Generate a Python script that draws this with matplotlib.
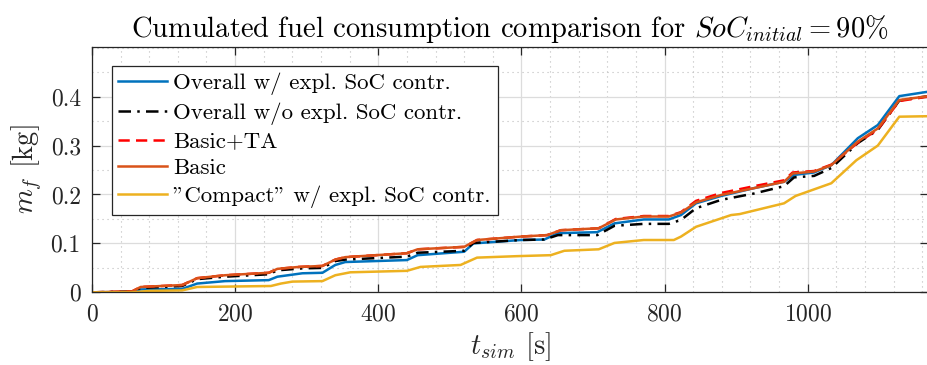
import matplotlib
matplotlib.use('Agg')
import matplotlib.pyplot as plt
from matplotlib.ticker import MultipleLocator

plt.rcParams['font.family'] = 'serif'
plt.rcParams['font.serif'] = ['cmr10']
plt.rcParams['mathtext.fontset'] = 'cm'
plt.rcParams['axes.formatter.use_mathtext'] = True

# Overall w/ expl. SoC contr. (blue)
t_blue = [0, 56, 68, 126, 147, 186, 247, 259, 294, 322, 340, 354, 440, 455, 520, 533, 599, 632, 651,
          706, 730, 771, 806, 823, 844, 879, 925, 967, 981, 1009, 1033, 1070, 1098, 1128, 1168]
m_blue = [0, 0.001, 0.006, 0.007, 0.018, 0.023, 0.025, 0.032, 0.039, 0.040, 0.056, 0.062, 0.066, 0.076, 0.083, 0.100, 0.107, 0.108, 0.121,
          0.123, 0.141, 0.149, 0.149, 0.158, 0.182, 0.197, 0.213, 0.226, 0.240, 0.245, 0.260, 0.315, 0.342, 0.401, 0.410]

# Overall w/o expl. SoC contr. (black dash-dot)
t_black = [0, 56, 68, 126, 147, 186, 247, 259, 294, 322, 340, 354, 440, 455, 520, 533, 599, 632, 651,
           706, 730, 771, 806, 823, 844, 879, 925, 967, 981, 1009, 1033, 1070, 1098, 1128, 1168]
m_black = [0, 0.002, 0.009, 0.013, 0.027, 0.032, 0.037, 0.045, 0.049, 0.050, 0.064, 0.067, 0.073, 0.081, 0.085, 0.101, 0.107, 0.108, 0.117,
           0.117, 0.136, 0.140, 0.140, 0.148, 0.172, 0.189, 0.202, 0.217, 0.235, 0.238, 0.254, 0.305, 0.332, 0.392, 0.401]

# Basic+TA (red dashed)
t_red = [0, 56, 68, 126, 147, 186, 247, 259, 289, 322, 340, 354, 440, 455, 520, 538, 599, 636, 655,
         708, 732, 771, 806, 823, 844, 879, 925, 967, 979, 1009, 1033, 1070, 1098, 1128, 1168]
m_red = [0, 0.002, 0.011, 0.015, 0.029, 0.035, 0.040, 0.048, 0.052, 0.054, 0.067, 0.072, 0.080, 0.088, 0.093, 0.107, 0.114, 0.117, 0.127,
         0.131, 0.150, 0.156, 0.156, 0.164, 0.187, 0.203, 0.217, 0.229, 0.245, 0.248, 0.261, 0.306, 0.333, 0.391, 0.400]

# Basic (orange)
t_orange = [0, 56, 68, 126, 147, 186, 247, 259, 289, 322, 340, 354, 440, 455, 520, 538, 599, 636, 655,
            708, 732, 771, 806, 823, 844, 879, 925, 967, 979, 1009, 1033, 1070, 1098, 1128, 1168]
m_orange = [0, 0.002, 0.011, 0.015, 0.029, 0.035, 0.040, 0.048, 0.052, 0.054, 0.067, 0.072, 0.080, 0.088, 0.093, 0.107, 0.114, 0.117, 0.127,
            0.131, 0.149, 0.155, 0.155, 0.163, 0.184, 0.199, 0.213, 0.226, 0.243, 0.247, 0.260, 0.308, 0.335, 0.393, 0.401]

# "Compact" w/ expl. SoC contr. (yellow)
t_yellow = [0, 56, 80, 126, 147, 250, 264, 280, 322, 340, 361, 440, 459, 515, 538, 594, 641, 660,
            708, 730, 771, 813, 823, 844, 893, 905, 967, 983, 1033, 1068, 1098, 1128, 1168]
m_yellow = [0, 0.000, 0.003, 0.004, 0.011, 0.013, 0.018, 0.022, 0.023, 0.035, 0.041, 0.044, 0.052, 0.056, 0.071, 0.074, 0.076, 0.085,
            0.088, 0.101, 0.107, 0.107, 0.114, 0.134, 0.158, 0.160, 0.182, 0.197, 0.223, 0.270, 0.300, 0.359, 0.360]

fig = plt.figure(figsize=(9.27, 3.65), dpi=100)
ax = fig.add_axes([0.0992, 0.199, 0.9018, 0.673])

lw = 1.8
ax.plot(t_blue, m_blue, color='#0072BD', lw=lw, label='Overall w/ expl. SoC contr.')
ax.plot(t_black, m_black, color='black', lw=lw, ls=(0, (5, 2.5, 1, 2.5)), label='Overall w/o expl. SoC contr.')
ax.plot(t_red, m_red, color='red', lw=lw, ls=(0, (4.5, 2.5)), label='Basic+TA')
ax.plot(t_orange, m_orange, color='#D95319', lw=lw, label='Basic')
ax.plot(t_yellow, m_yellow, color='#EDB120', lw=lw, label='"Compact" w/ expl. SoC contr.')

ax.set_xlim(0, 1168)
ax.set_ylim(0, 0.502)
ax.set_xticks([0, 200, 400, 600, 800, 1000])
ax.set_yticks([0, 0.1, 0.2, 0.3, 0.4])
ax.set_yticklabels(['0', '0.1', '0.2', '0.3', '0.4'])
ax.xaxis.set_minor_locator(MultipleLocator(40))
ax.yaxis.set_minor_locator(MultipleLocator(0.05))
ax.grid(True, which='major', color='#dcdcdc', lw=0.9)
ax.grid(True, which='minor', color='#bdbdbd', lw=0.8, ls=(0, (1, 3.5)))
ax.set_axisbelow(True)
ax.tick_params(which='both', direction='in', top=True, right=True, labelsize=17, color='#262626', labelcolor='#262626')
ax.tick_params(which='major', length=6, width=0.9, pad=8)
ax.tick_params(which='minor', length=0)
for s in ax.spines.values():
    s.set_color('#262626')
    s.set_linewidth(0.9)

ax.set_xlabel(r'$t_{sim}$ [s]', fontsize=20.5, color='#262626', labelpad=3)
ax.set_ylabel(r'$m_f$ [kg]', fontsize=20.5, color='#262626', labelpad=5)
ax.set_title(r'Cumulated fuel consumption comparison for $SoC_{initial} = 90\%$', fontsize=20.5, pad=7)

leg = ax.legend(loc='upper left', bbox_to_anchor=(0.0235, 0.922), fontsize=16.5, frameon=True, fancybox=False,
                edgecolor='#262626', framealpha=1, handlelength=2.1, handletextpad=0.3, labelspacing=0.3,
                borderaxespad=0, borderpad=0.3)
leg.get_frame().set_linewidth(0.9)

fig.savefig('out.png', dpi=100)
